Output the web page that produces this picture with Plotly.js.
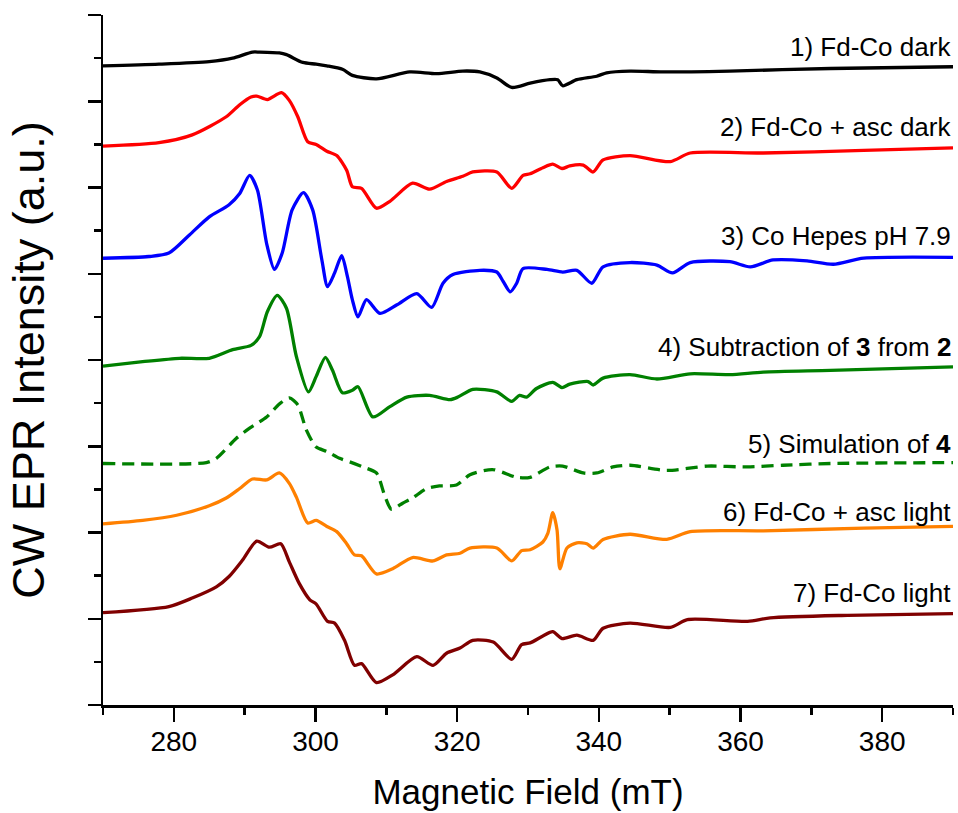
<!DOCTYPE html>
<html>
<head>
<meta charset="utf-8">
<script src="https://cdn.plot.ly/plotly-3.0.1.min.js"></script>
<style>html,body{margin:0;padding:0;background:#fff}#chart{width:958px;height:813px}</style>
</head>
<body>
<div id="chart"></div>
<script>
// 1) Fd-Co dark
const field1 = [270,277.9,285.0,288.3,291.1,292.1,294.9,295.9,298.2,300.1,301.6,303.8,305.2,308.6,313.3,317.1,320.8,323.2,325.6,327.7,330.3,333.1,334.2,334.9,336.9,339.7,341.1,344.4,349.1,358.5,372.7,390];
const int1   = [7.41,7.43,7.46,7.50,7.57,7.57,7.56,7.54,7.45,7.43,7.41,7.37,7.30,7.26,7.34,7.32,7.35,7.34,7.27,7.16,7.21,7.25,7.25,7.18,7.25,7.29,7.33,7.35,7.34,7.35,7.38,7.40];
// 2) Fd-Co + asc dark
const field2 = [270,277.9,282.6,287.4,289.3,290.9,291.7,293.2,295.2,296.3,297.5,298.9,300.1,301.6,303.0,304.4,305.2,306.5,308.6,310.5,313.7,316.1,318.5,320.8,322.2,325.6,327.7,329.3,330.3,332.1,333.5,334.8,335.9,337.8,339.2,340.6,344.4,350.1,352.9,363.2,377.4,390];
const int2   = [6.48,6.52,6.61,6.82,6.96,7.05,7.06,7.02,7.10,7.01,6.82,6.53,6.50,6.42,6.37,6.20,6.01,5.99,5.76,5.84,6.05,5.98,6.07,6.13,6.18,6.18,5.99,6.14,6.16,6.23,6.27,6.22,6.25,6.26,6.18,6.32,6.37,6.30,6.40,6.40,6.43,6.46];
// 3) Co Hepes pH 7.9
const field3 = [270,276.5,279.3,282.2,285.0,287.8,289.3,290.7,291.8,293.1,294.2,295.3,296.7,298.3,299.6,300.9,301.7,302.7,303.7,304.5,305.2,306.0,307.2,309.1,311.5,314.3,316.4,318.0,319.4,323.2,325.6,326.5,327.5,328.4,329.3,332.7,334.9,336.9,339.0,340.6,344.4,348.2,350.4,352.9,358.5,361.4,364.6,369.4,373.1,377.4,390];
const int3   = [5.18,5.20,5.24,5.45,5.66,5.80,5.93,6.14,5.97,5.35,5.05,5.24,5.74,5.94,5.74,5.16,4.85,5.01,5.21,4.97,4.70,4.50,4.70,4.54,4.64,4.77,4.61,4.89,4.99,5.04,5.02,4.91,4.79,4.89,5.06,5.05,5.02,5.04,4.89,5.08,5.13,5.10,5.01,5.13,5.14,5.08,5.16,5.15,5.11,5.18,5.19];
// 4) Subtraction of 3 from 2
const field4 = [270,275.6,280.8,285.0,288.3,290.9,292.1,293.2,294.6,295.9,297.3,299.0,300.1,301.4,302.4,303.8,305.2,306.0,308.1,310.5,312.9,316.1,319.0,320.1,322.2,325.6,327.7,328.8,329.8,331.2,333.5,334.8,335.9,338.5,339.2,340.6,344.4,348.2,352.9,358.5,363.2,372.7,390];
const int4   = [3.93,3.98,4.02,4.02,4.12,4.17,4.27,4.56,4.75,4.60,4.04,3.63,3.81,4.03,3.88,3.62,3.65,3.69,3.34,3.46,3.57,3.59,3.54,3.57,3.66,3.63,3.52,3.59,3.57,3.67,3.74,3.68,3.72,3.75,3.71,3.79,3.83,3.78,3.84,3.83,3.86,3.88,3.92];
// 5) Simulation of 4
const field5 = [270,284.6,286.0,288.8,290.7,293.1,294.9,296.3,297.5,298.7,300.1,301.6,303.4,304.8,306.7,308.6,309.8,310.7,312.3,313.7,315.7,317.5,319.9,321.8,325.0,328.4,330.3,333.1,334.9,337.8,339.7,342.0,344.4,349.6,355.3,360.9,366.0,372.7,390];
const int5   = [2.80,2.81,2.86,3.09,3.21,3.34,3.49,3.56,3.48,3.19,2.99,2.94,2.86,2.82,2.76,2.69,2.42,2.27,2.34,2.40,2.51,2.54,2.55,2.67,2.73,2.64,2.64,2.76,2.77,2.69,2.69,2.76,2.78,2.72,2.77,2.76,2.78,2.80,2.81];
// 6) Fd-Co + asc light
const field6 = [270,275.6,280.4,285.0,287.4,289.3,291.1,293.1,294.9,296.3,297.3,298.9,300.1,301.6,303.0,304.4,305.5,306.5,308.6,310.9,313.7,316.6,318.5,320.4,321.8,325.6,327.7,329.1,330.3,332.1,332.8,333.5,334.1,334.5,335.5,336.9,338.3,339.2,340.6,344.4,349.6,352.9,363.2,377.4,390];
const int6   = [2.10,2.14,2.20,2.31,2.40,2.51,2.62,2.61,2.69,2.57,2.41,2.11,2.14,2.07,2.01,1.87,1.74,1.73,1.52,1.58,1.71,1.67,1.74,1.76,1.82,1.82,1.67,1.79,1.80,1.89,1.99,2.23,2.03,1.58,1.82,1.88,1.87,1.82,1.92,1.98,1.92,2.01,2.02,2.05,2.07];
// 7) Fd-Co light
const field7 = [270,279.3,282.6,286.0,287.8,289.7,291.7,293.5,295.1,296.3,297.7,299.2,300.1,301.7,302.7,304.1,305.5,306.5,308.6,310.9,314.3,316.6,318.5,320.4,322.2,325.1,327.7,329.1,330.3,332.1,333.5,334.8,336.9,339.2,340.6,344.4,350.1,352.5,361.0,364.2,375.1,390];
const int7   = [1.07,1.14,1.24,1.37,1.49,1.68,1.90,1.83,1.87,1.66,1.41,1.22,1.17,0.97,0.95,0.75,0.46,0.48,0.26,0.35,0.56,0.46,0.60,0.66,0.75,0.73,0.53,0.70,0.72,0.80,0.85,0.77,0.81,0.75,0.89,0.95,0.90,0.99,0.97,1.01,1.04,1.06];

const labels = ["1) Fd-Co dark","2) Fd-Co + asc dark","3) Co Hepes pH 7.9","4) Subtraction of <b>3</b> from <b>2</b>","5) Simulation of <b>4</b>","6) Fd-Co + asc light","7) Fd-Co light"];
const labelY = [7.63,6.70,5.44,4.15,3.03,2.24,1.30];
const colors = ["#000000","#ff0000","#0000ff","#008000","#008000","#ff8000","#800000"];
const dashes = ["solid","solid","solid","solid","12px,7px","solid","solid"];

const fields = [field1,field2,field3,field4,field5,field6,field7];
const ints = [int1,int2,int3,int4,int5,int6,int7];

const traces = fields.map((f,i)=>({
  x: f, y: ints[i], type:'scatter', mode:'lines',
  line:{color:colors[i], width:3.3, dash:dashes[i], shape:'spline', smoothing:0.7},
  hoverinfo:'skip', showlegend:false
}));

const annotations = labels.map((t,i)=>({
  text:t, xref:'paper', x:1, xanchor:'right', yref:'y', y:labelY[i], yanchor:'middle',
  showarrow:false, font:{family:'Liberation Sans, Arial, sans-serif', size:26, color:'#000'}
}));

const layout = {
  width:958, height:813,
  margin:{l:103, r:5, t:15, b:108},
  paper_bgcolor:'#fff', plot_bgcolor:'#fff',
  font:{family:'Liberation Sans, Arial, sans-serif', color:'#000'},
  xaxis:{
    range:[270,390], tick0:280, dtick:20, ticks:'outside', ticklen:14, tickwidth:2.5, tickcolor:'#000',
    showline:true, linewidth:2.5, linecolor:'#000', showgrid:false, zeroline:false,
    tickfont:{size:28, family:'Liberation Sans, Arial, sans-serif'}, ticklabelstandoff:-4,
    minor:{dtick:10, tick0:270, ticks:'outside', ticklen:7, tickwidth:2.5, tickcolor:'#000', showgrid:false},
    title:{text:'Magnetic Field (mT)', font:{size:35, family:'Liberation Sans, Arial, sans-serif'}, standoff:24}
  },
  yaxis:{
    range:[0,8], tick0:0, dtick:1, ticks:'outside', ticklen:13, tickwidth:2.5, tickcolor:'#000',
    showline:true, linewidth:2.5, linecolor:'#000', showgrid:false, zeroline:false, showticklabels:false,
    minor:{dtick:0.5, ticks:'outside', ticklen:7, tickwidth:2.5, tickcolor:'#000', showgrid:false},
    title:{text:'CW EPR Intensity (a.u.)', font:{size:45, family:'Liberation Sans, Arial, sans-serif'}, standoff:29}
  },
  annotations: annotations
};

Plotly.newPlot('chart', traces, layout, {displayModeBar:false, staticPlot:true});
</script>
</body>
</html>
